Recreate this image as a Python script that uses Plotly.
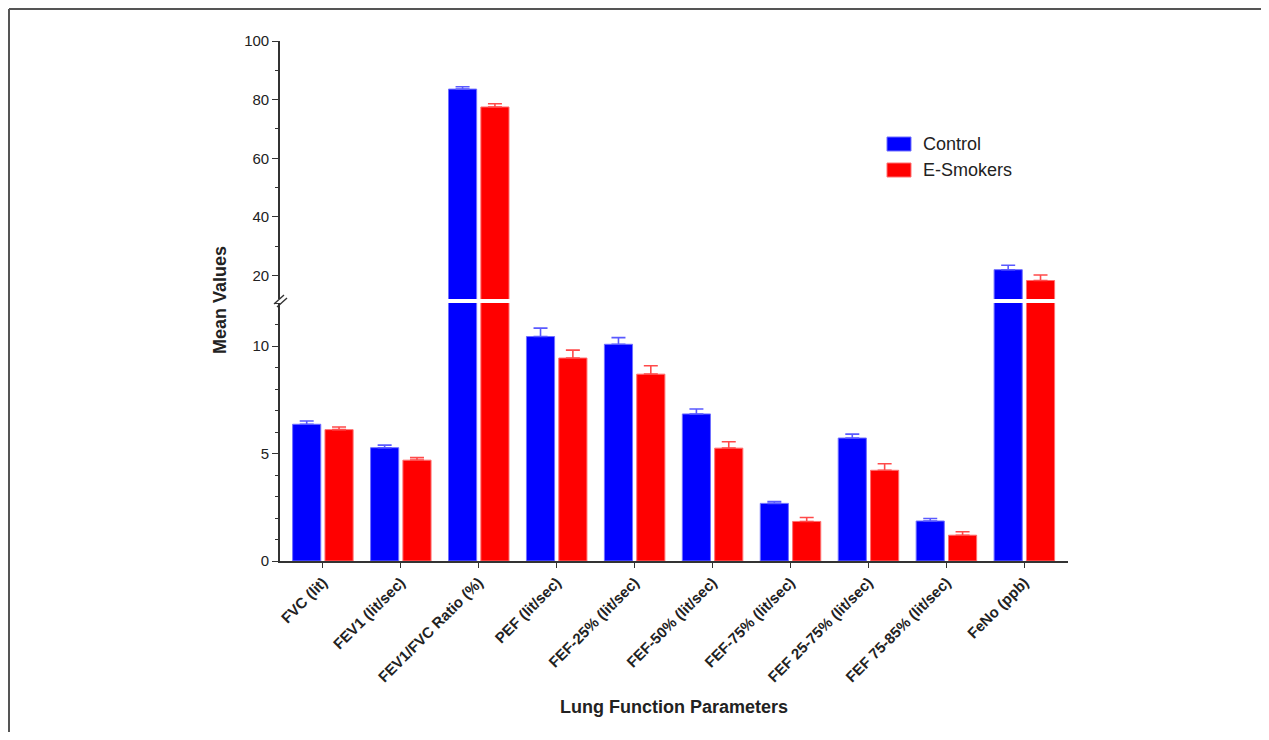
import plotly.graph_objects as go

# ---------------- data ----------------
categories = ["FVC (lit)", "FEV1 (lit/sec)", "FEV1/FVC Ratio (%)", "PEF (lit/sec)",
              "FEF-25% (lit/sec)", "FEF-50% (lit/sec)", "FEF-75% (lit/sec)",
              "FEF 25-75% (lit/sec)", "FEF 75-85% (lit/sec)", "FeNo (ppb)"]
control_mean = [6.36, 5.27, 83.6, 10.44, 10.08, 6.84, 2.68, 5.72, 1.86, 22.0]
control_se = [0.15, 0.12, 0.8, 0.39, 0.31, 0.23, 0.09, 0.18, 0.12, 1.5]
esmoke_mean = [6.11, 4.69, 77.5, 9.44, 8.69, 5.25, 1.84, 4.22, 1.20, 18.3]
esmoke_se = [0.12, 0.12, 1.1, 0.37, 0.39, 0.30, 0.18, 0.30, 0.16, 1.9]
series_names = ["Control", "E-Smokers"]
BREAK = 12

# ---------------- layout helpers (page pixel coords, body margin 8px) ----------------
OFF = 8
W, H = 1269 - 2 * OFF, 740 - 2 * OFF
L, R, T, B = 280 - OFF, 1068 - OFF, 41 - OFF, 561 - OFF


def px(x):
    return (x - OFF - L) / (R - L)


def py(y):
    return (B - (y - OFF)) / (B - T)


FONT = "Arial, Liberation Sans, Helvetica, sans-serif"
AX = "#333333"

series = [
    (series_names[0], control_mean, control_se, "#0000ff", "#7070ff", "#5a5aff"),
    (series_names[1], esmoke_mean, esmoke_se, "#ff0000", "#ff7070", "#ff4a4a"),
]

fig = go.Figure()
for name, means, ses, fill, edge, errc in series:
    low_err = [s if m <= BREAK else None for m, s in zip(means, ses)]
    up_vals = [m if m > BREAK else None for m in means]
    up_err = [s if m > BREAK else None for m, s in zip(means, ses)]
    fig.add_trace(go.Bar(
        x=categories, y=means, name=name, xaxis="x", yaxis="y",
        marker=dict(color=fill, line=dict(color=edge, width=1)),
        error_y=dict(type="data", array=low_err, arrayminus=[0] * len(means),
                     symmetric=False, color=errc, thickness=1.6, width=7),
        showlegend=False, hoverinfo="x+y"))
    fig.add_trace(go.Bar(
        x=categories, y=up_vals, name=name, xaxis="x", yaxis="y2",
        marker=dict(color=fill, line=dict(color=edge, width=1)),
        error_y=dict(type="data", array=up_err, arrayminus=[0] * len(means),
                     symmetric=False, color=errc, thickness=1.6, width=7),
        showlegend=False, hoverinfo="x+y"))

tickfont = dict(family=FONT, size=15, color="#222222")

fig.update_layout(
    width=W, height=H,
    margin=dict(l=L, r=W - R, t=T, b=H - B, pad=0),
    paper_bgcolor="white", plot_bgcolor="white",
    barmode="group", bargap=0.17, bargroupgap=0.13,
    font=dict(family=FONT, color="#222222"),
    xaxis=dict(domain=[0, 1], anchor="y", range=[-0.55, 9.56],
               showline=True, linecolor=AX, linewidth=1.6,
               ticks="outside", ticklen=5, tickwidth=1.4, tickcolor=AX,
               tickangle=-45, showgrid=False, zeroline=False,
               tickfont=dict(family=FONT, size=15, color="#222222", weight="bold")),
    yaxis=dict(domain=[0, py(303)], range=[0, BREAK], anchor="x",
               showline=True, linecolor=AX, linewidth=1.6,
               ticks="outside", ticklen=6, tickwidth=1.4, tickcolor=AX,
               tick0=0, dtick=5, showgrid=False, zeroline=False,
               minor=dict(dtick=1, tick0=0, ticks="outside", ticklen=3,
                          tickwidth=1.2, tickcolor=AX, showgrid=False),
               tickfont=tickfont),
    yaxis2=dict(domain=[py(299), 1], range=[BREAK, 100], anchor="x",
                showline=True, linecolor=AX, linewidth=1.6,
                ticks="outside", ticklen=6, tickwidth=1.4, tickcolor=AX,
                tick0=0, dtick=20, showgrid=False, zeroline=False,
                minor=dict(dtick=10, tick0=0, ticks="outside", ticklen=3,
                           tickwidth=1.2, tickcolor=AX, showgrid=False),
                tickfont=tickfont),
)

shapes = []
# axis break marks
for (x0, y0, x1, y1) in [(274, 304, 284, 295), (277, 307, 287, 298)]:
    shapes.append(dict(type="line", xref="paper", yref="paper",
                       x0=px(x0), y0=py(y0), x1=px(x1), y1=py(y1),
                       line=dict(color=AX, width=1.4)))
# outer frame (top and left edges only)
shapes.append(dict(type="line", xref="paper", yref="paper",
                   x0=px(9), y0=py(9), x1=px(9), y1=py(740),
                   line=dict(color="#555555", width=2)))
shapes.append(dict(type="line", xref="paper", yref="paper",
                   x0=px(9), y0=py(9), x1=px(1266), y1=py(9),
                   line=dict(color="#555555", width=2)))
# legend swatches
legend_rows = [(144, series[0]), (170, series[1])]
annotations = []
for yc, (name, _, _, fill, edge, _) in legend_rows:
    shapes.append(dict(type="rect", xref="paper", yref="paper",
                       x0=px(887), x1=px(911), y0=py(yc + 7), y1=py(yc - 7),
                       fillcolor=fill, line=dict(color=edge, width=1)))
    annotations.append(dict(text=name, xref="paper", yref="paper",
                            x=px(921), y=py(yc), xanchor="left", yanchor="middle",
                            showarrow=False,
                            font=dict(family=FONT, size=18, color="#222222")))

annotations.append(dict(text="Mean Values", xref="paper", yref="paper",
                        x=px(220), y=py(300), xanchor="center", yanchor="middle",
                        textangle=-90, showarrow=False,
                        font=dict(family=FONT, size=18, color="#222222", weight="bold")))
annotations.append(dict(text="Lung Function Parameters", xref="paper", yref="paper",
                        x=px(674), y=py(707), xanchor="center", yanchor="middle",
                        showarrow=False,
                        font=dict(family=FONT, size=18, color="#222222", weight="bold")))

fig.update_layout(shapes=shapes, annotations=annotations)

fig.write_html("out.html")
